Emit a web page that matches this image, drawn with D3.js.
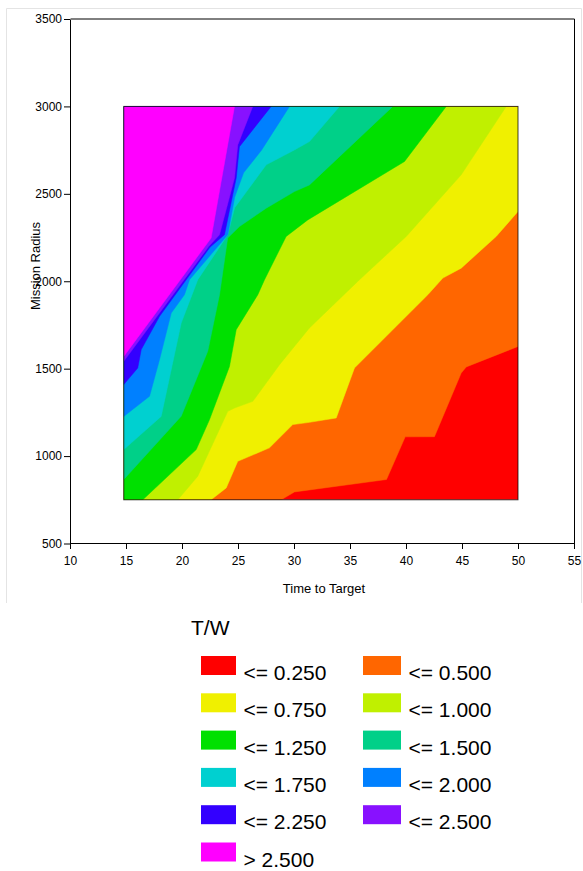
<!DOCTYPE html>
<html>
<head>
<meta charset="utf-8">
<script src="https://cdn.jsdelivr.net/npm/d3@7"></script>
<style>
  body { margin: 0; background: #fff; }
  svg { display: block; font-family: "Liberation Sans", Arial, sans-serif; }
</style>
</head>
<body>
<svg id="chart" width="583" height="871"></svg>
<script>
// T/W levels, lowest first; one more colour than levels (the open top band)
const levels = [0.25, 0.5, 0.75, 1.0, 1.25, 1.5, 1.75, 2.0, 2.25, 2.5];
const bandColors = ['#ff0000', '#ff6600', '#f0f000', '#c0f000', '#00e000', '#00d088',
                    '#00d0d0', '#0080ff', '#3300ff', '#8811ff', '#ff00ff'];
const legendLabels = ['<= 0.250', '<= 0.500', '<= 0.750', '<= 1.000', '<= 1.250', '<= 1.500',
                      '<= 1.750', '<= 2.000', '<= 2.250', '<= 2.500', '> 2.500'];

const xTicks = [10, 15, 20, 25, 30, 35, 40, 45, 50, 55];
const yTicks = [500, 1000, 1500, 2000, 2500, 3000, 3500];

// computed field covers this time / radius window
const timeExtent = [14.8, 50];
const radiusExtent = [750, 3000];

// iso-lines of T/W as [time to target, mission radius]
const line025 = [[14.8, 750], [28.86, 750], [30.04, 795], [38.26, 866], [39.93, 1110], [42.54, 1111],
                 [44.93, 1475], [45.38, 1510], [50, 1627]];
const line050 = [[14.8, 750], [22.6, 750], [23.95, 818], [24.98, 970], [27.81, 1047], [29.89, 1180],
                 [31.38, 1193], [33.77, 1218], [35.4, 1504], [41.95, 1923], [43.29, 2018], [44.93, 2075],
                 [48.05, 2256], [50, 2399]];
const line075 = [[14.8, 750], [19.63, 750], [21.41, 885], [24.09, 1256], [24.69, 1275], [26.32, 1313],
                 [28.71, 1523], [31.38, 1733], [35.85, 2009], [40.02, 2256], [44.93, 2609], [48.95, 3000]];
const line100 = [[14.8, 750], [16.5, 750], [21.27, 1037], [22.46, 1209], [24.24, 1513], [24.84, 1723],
                 [26.77, 1923], [27.37, 2009], [29.3, 2256], [31.23, 2351], [39.87, 2685], [43.59, 3000]];
const line125 = [[14.8, 866], [19.93, 1228], [22.3, 1600], [23.35, 1923], [24.08, 2247], [25.13, 2313],
                 [27.52, 2418], [30.04, 2513], [31.38, 2551], [38.82, 3000]];
const line150 = [[14.8, 1037], [18.14, 1227], [19.93, 1761], [21.41, 2009], [24.09, 2266], [24.7, 2420],
                 [27.52, 2666], [30.04, 2751], [31.38, 2799], [34.06, 3000]];
const line175 = [[14.8, 1227], [17.1, 1342], [17.99, 1551], [19.04, 1818], [20.22, 1923], [20.67, 2009],
                 [24.09, 2266], [24.7, 2480], [25.5, 2620], [27.1, 2750], [29.6, 3000]];
const line200 = [[14.8, 1409], [16.05, 1504], [16.36, 1609], [18.0, 1800], [22.5, 2195], [23.79, 2266],
                 [24.84, 2590], [25.13, 2770], [27.96, 3000]];
const line225 = [[14.8, 1542], [22.4, 2200], [23.35, 2266], [24.69, 2590], [24.98, 2780], [26.32, 3000]];
const line250 = [[14.8, 1570], [22.6, 2247], [24.69, 3000]];

const isoLines = [line025, line050, line075, line100, line125, line150, line175, line200, line225, line250];

const svg = d3.select('#chart');

const x = d3.scaleLinear().domain([10, 55]).range([70, 574]);
const y = d3.scaleLinear().domain([500, 3500]).range([543.5, 19]);

// light panel edge
svg.append('path')
    .attr('d', 'M6.5,603V8.5H581.5V603')
    .attr('fill', 'none')
    .attr('stroke', '#e4e4e4');

// clip for the field
svg.append('defs').append('clipPath').attr('id', 'field')
    .append('rect')
    .attr('x', x(timeExtent[0]))
    .attr('y', y(radiusExtent[1]))
    .attr('width', x(timeExtent[1]) - x(timeExtent[0]))
    .attr('height', y(radiusExtent[0]) - y(radiusExtent[1]));

const field = svg.append('g').attr('clip-path', 'url(#field)');

// lowest band fills everything, each level paints the area above its line
field.append('rect')
    .attr('x', x(timeExtent[0]))
    .attr('y', y(radiusExtent[1]))
    .attr('width', x(timeExtent[1]) - x(timeExtent[0]))
    .attr('height', y(radiusExtent[0]) - y(radiusExtent[1]))
    .attr('fill', bandColors[0]);

const above = d3.area()
    .x(d => x(d[0]))
    .y0(d => y(d[1]))
    .y1(y(radiusExtent[1]));

field.selectAll('path.band')
    .data(isoLines)
    .join('path')
    .attr('class', 'band')
    .attr('d', above)
    .attr('fill', (d, i) => bandColors[i + 1])
    .attr('stroke', (d, i) => bandColors[i + 1])
    .attr('stroke-width', 0.5);

svg.append('rect')
    .attr('x', x(timeExtent[0]))
    .attr('y', y(radiusExtent[1]))
    .attr('width', x(timeExtent[1]) - x(timeExtent[0]))
    .attr('height', y(radiusExtent[0]) - y(radiusExtent[1]))
    .attr('fill', 'none')
    .attr('stroke', '#000')
    .attr('stroke-opacity', 0.75);

// axes
const xAxis = svg.append('g')
    .attr('transform', 'translate(0,543)')
    .call(d3.axisBottom(x).tickValues(xTicks).tickSize(6).tickPadding(7).tickSizeOuter(0));

const yAxis = svg.append('g')
    .attr('transform', 'translate(70,0)')
    .call(d3.axisLeft(y).tickValues(yTicks).tickFormat(d3.format('d'))
        .tickSize(6).tickPadding(2).tickSizeOuter(0));

[xAxis, yAxis].forEach(a => {
    a.selectAll('text').attr('font-size', 12).attr('fill', '#000')
        .attr('font-family', '"Liberation Sans", Arial, sans-serif');
    a.selectAll('line, path').attr('stroke', '#000');
});

// top and right frame
svg.append('path')
    .attr('d', `M${x(10) + 0.5},${y(3500)}H${x(55) + 0.5}V${y(500)}`)
    .attr('fill', 'none')
    .attr('stroke', '#000');

svg.append('text')
    .attr('x', 324).attr('y', 593)
    .attr('text-anchor', 'middle')
    .attr('font-size', 13)
    .text('Time to Target');

svg.append('text')
    .attr('transform', 'translate(39.5,266) rotate(-90)')
    .attr('text-anchor', 'middle')
    .attr('font-size', 13)
    .text('Mission Radius');

// legend
const legend = svg.append('g');
legend.append('text')
    .attr('x', 191).attr('y', 635)
    .attr('font-size', 21)
    .text('T/W');

const colX = [201, 363];
const swatchW = [35, 38];
const item = legend.selectAll('g.item')
    .data(legendLabels)
    .join('g')
    .attr('class', 'item')
    .attr('transform', (d, i) => `translate(${colX[i % 2]},${656 + Math.floor(i / 2) * 37.3})`);

item.append('rect')
    .attr('width', (d, i) => swatchW[i % 2])
    .attr('height', 19)
    .attr('fill', (d, i) => bandColors[i]);

item.append('text')
    .attr('x', (d, i) => swatchW[i % 2] + 7.5)
    .attr('y', 24)
    .attr('font-size', 21)
    .text(d => d);
</script>
</body>
</html>
